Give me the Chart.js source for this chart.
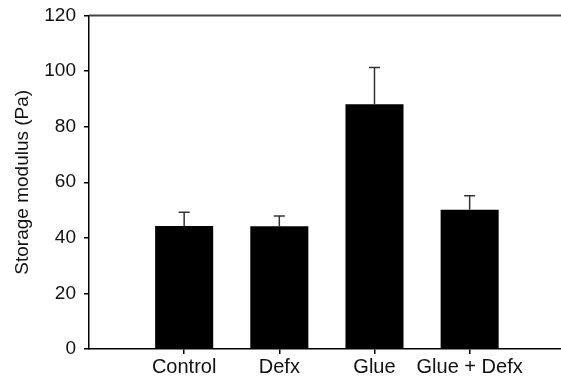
<!DOCTYPE html>
<html>
<head>
<meta charset="utf-8">
<script src="https://cdn.jsdelivr.net/npm/chart.js@4.4.0/dist/chart.umd.min.js"></script>
<style>
  html, body { margin: 0; padding: 0; background: #fff; overflow: hidden; }
</style>
</head>
<body>
<canvas id="chart" width="561" height="383"></canvas>
<script>
// data
const categories = ["Control", "Defx", "Glue", "Glue + Defx"];
const positions = [1, 2, 3, 4];
const means = [44.3, 44.2, 88.1, 50.1];
const errUp = [4.9, 3.7, 13.2, 5.0];
const yTicks = [0, 20, 40, 60, 80, 100, 120];

const FONT = "'Liberation Sans', Arial, Helvetica, sans-serif";

// draws the upper error whiskers
const errorBars = {
  id: "errorBars",
  afterDatasetsDraw(chart) {
    const ctx = chart.ctx;
    const xs = chart.scales.x;
    const ys = chart.scales.y;
    ctx.save();
    ctx.strokeStyle = "#333";
    ctx.lineWidth = 1.5;
    positions.forEach((p, i) => {
      const x = xs.getPixelForValue(p);
      const y0 = ys.getPixelForValue(means[i]);
      const y1 = ys.getPixelForValue(means[i] + errUp[i]);
      ctx.beginPath();
      ctx.moveTo(x, y0);
      ctx.lineTo(x, y1);
      ctx.moveTo(x - 5.5, y1);
      ctx.lineTo(x + 5.5, y1);
      ctx.stroke();
    });
    ctx.restore();
  }
};

// line along the top of the plot
const topLine = {
  id: "topLine",
  afterDraw(chart) {
    const a = chart.chartArea;
    const ctx = chart.ctx;
    ctx.save();
    ctx.strokeStyle = "#444";
    ctx.lineWidth = 2;
    ctx.beginPath();
    ctx.moveTo(a.left, a.top);
    ctx.lineTo(chart.width, a.top);
    ctx.stroke();
    ctx.restore();
  }
};

new Chart(document.getElementById("chart"), {
  type: "bar",
  plugins: [errorBars, topLine],
  data: {
    datasets: [{
      data: positions.map((x, i) => ({ x: x, y: means[i] })),
      backgroundColor: "#000",
      borderWidth: 0,
      barPercentage: 0.61,
      categoryPercentage: 1
    }]
  },
  options: {
    responsive: false,
    animation: false,
    layout: { padding: { top: 15.5, right: 0, left: 0, bottom: 0 } },
    plugins: { legend: { display: false }, tooltip: { enabled: false } },
    scales: {
      x: {
        type: "linear",
        offset: false,
        min: 0,
        max: 4.96,
        afterBuildTicks: (axis) => { axis.ticks = positions.map(v => ({ value: v })); },
        afterFit: (scale) => { scale.height = 34; },
        ticks: {
          autoSkip: false,
          maxRotation: 0,
          padding: 1,
          color: "#111",
          font: { family: FONT, size: 20 },
          callback: (v) => categories[positions.indexOf(v)]
        },
        grid: { offset: false, drawOnChartArea: false, drawTicks: true, tickLength: 5, color: "#000", lineWidth: 1.5 },
        border: { display: true, color: "#000", width: 1.5 }
      },
      y: {
        min: 0,
        max: 120,
        afterBuildTicks: (axis) => { axis.ticks = yTicks.map(v => ({ value: v })); },
        afterFit: (scale) => { scale.width = 89; scale.paddingTop = 0; scale.paddingBottom = 0; },
        ticks: {
          padding: 8,
          color: "#111",
          font: { family: FONT, size: 19 }
        },
        title: {
          display: true,
          text: "Storage modulus (Pa)",
          color: "#111",
          font: { family: FONT, size: 19 },
          padding: { top: 11, bottom: 0 }
        },
        grid: { drawOnChartArea: false, drawTicks: true, tickLength: 5, color: "#000", lineWidth: 1.5 },
        border: { display: true, color: "#000", width: 1.5 }
      }
    }
  }
});
</script>
</body>
</html>
